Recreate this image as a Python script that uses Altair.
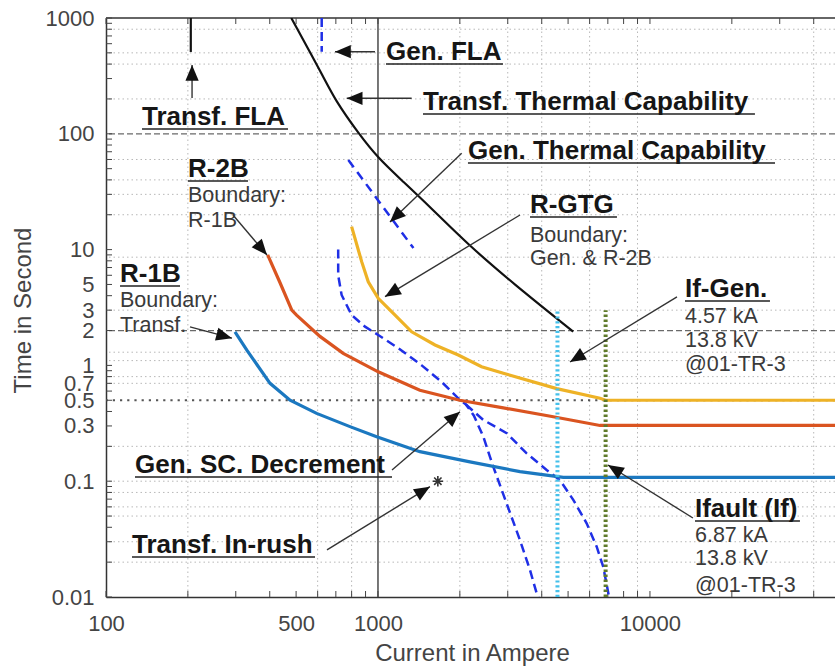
import math
import altair as alt
import pandas as pd

# ---------------------------------------------------------------- frame
X_MIN, X_MAX = 100, 47900          # current, A (log)
T_MIN, T_MAX = 0.01, 1000          # time, s (log)
W, H = 729, 579
FONT = "Liberation Sans"

# ---------------------------------------------------------------- curves
# Transformer thermal capability (damage curve)
transf_thermal_a = [480, 630, 695, 847, 1002, 1240, 1552, 2120, 3140, 5220]
transf_thermal_t = [1000, 311, 196, 101, 61.4, 38.5, 23.4, 11.3, 5.1, 1.96]

# Full-load amps markers
gen_fla_a, gen_fla_t = [621, 621], [1000, 512]
transf_fla_a, transf_fla_t = [205, 205], [1000, 509]

# Generator thermal capability
gen_thermal_a, gen_thermal_t = [778, 1350], [59.4, 10.3]

# Generator short-circuit decrement (two branches from a common start)
gen_sc_a = [714, 714, 735, 800, 896, 1002, 1188, 1448, 1715, 1974, 2105]
gen_sc_t = [10, 6.0, 4.06, 2.72, 2.16, 1.83, 1.41, 1.0, 0.72, 0.52, 0.46]
gen_sc_fast_a = [2105, 2250, 2440, 2655, 2973, 3327, 3622, 3830, 3900]
gen_sc_fast_t = [0.46, 0.37, 0.242, 0.133, 0.064, 0.031, 0.0171, 0.0108, 0.01]
gen_sc_slow_a = [2105, 2438, 2973, 3520, 4170, 4670, 5224, 5850, 6370, 6730, 7030, 7080]
gen_sc_slow_t = [0.46, 0.338, 0.26, 0.174, 0.125, 0.102, 0.069, 0.0433, 0.0272, 0.0183, 0.0108, 0.01]

# Relay characteristics
r1b_a = [298, 329, 401, 475, 595, 789, 989, 1426, 2178, 3327, 4800, 50000]
r1b_t = [1.95, 1.36, 0.70, 0.50, 0.385, 0.296, 0.242, 0.18, 0.147, 0.121, 0.108, 0.108]
r2b_a = [393, 436, 482, 502, 612, 745, 1002, 1426, 2000, 2890, 4410, 6550, 50000]
r2b_t = [9.0, 5.2, 3.0, 2.72, 1.78, 1.27, 0.88, 0.61, 0.50, 0.43, 0.36, 0.303, 0.303]
rgtg_a = [800, 871, 921, 1002, 1122, 1330, 1621, 1974, 2404, 2890, 4540, 6550, 6870, 50000]
rgtg_t = [15.8, 7.87, 5.28, 3.8, 2.91, 1.95, 1.5, 1.23, 0.975, 0.855, 0.63, 0.52, 0.5, 0.5]

# Fault currents
if_gen_a, if_gen_t = [4570, 4570], [0.01, 3.0]
ifault_a, ifault_t = [6870, 6870], [0.01, 3.0]

# Transformer in-rush point
inrush_a, inrush_t = [1660], [0.1]

# ---------------------------------------------------------------- grid / ticks
ref_dashed_t = [100, 2]
ref_dotted_t = [0.5]
grid_t = [800, 500, 400, 200, 60, 40, 30, 20, 8.6, 3, 1.3, 1.1, 0.8, 0.7,
          0.2, 0.1, 0.08, 0.06, 0.05, 0.03, 0.02]
grid_a = [200, 600, 800, 2000, 3000, 4000, 6000, 9000, 40000]
x_tick_values = [100, 500, 1000, 10000]
y_tick_values = [0.01, 0.1, 0.3, 0.5, 0.7, 1, 2, 3, 5, 10, 100, 1000]
minor_a = [m * 10 ** e for e in (2, 3, 4) for m in range(1, 10) if m * 10 ** e <= X_MAX]
minor_t = [m * 10.0 ** e for e in (-2, -1, 0, 1, 2) for m in range(1, 10)] + [1000]

# ---------------------------------------------------------------- annotations
bold_text = ["Gen. FLA", "Transf. Thermal Capability", "Transf. FLA",
             "Gen. Thermal Capability", "R-GTG", "R-2B", "R-1B", "If-Gen.",
             "Gen. SC. Decrement", "Ifault (If)", "Transf. In-rush"]
bold_a = [1070, 1464, 135.6, 2142, 3622, 200.2, 112.6, 13450, 127.8, 14640, 124.6]
bold_t = [433.8, 160.5, 119.1, 60.6, 20.71, 42.4, 5.25, 3.9, 0.1177, 0.0491, 0.024]
bold_a_end = [2882, 24320, 466.9, 28830, 7563, 332.7, 187.1, 27620, 1126, 35600, 586.7]

note_text = ["Boundary:", "R-1B", "Boundary:", "Gen. & R-2B", "Boundary:", "Transf.",
             "4.57 kA", "13.8 kV", "@01-TR-3", "6.87 kA", "13.8 kV", "@01-TR-3"]
note_a = [200.2, 200.2, 3622, 3622, 112.6, 112.6,
          13450, 13450, 13450, 14640, 14640, 14640]
note_t = [25.76, 15.67, 11.63, 7.36, 3.19, 1.94,
          2.32, 1.44, 0.895, 0.0299, 0.0189, 0.01104]

arrow_from_a = [975, 1330, 207.2, 2031, 3328, 293, 203.6, 12570, 1126, 14390, 649.4]
arrow_from_t = [511.7, 202.6, 203.8, 67.9, 19.9, 19.9, 2.15, 3.9, 0.125, 0.0481, 0.0255]
arrow_to_a = [695, 767.4, 207.2, 1107, 1061, 390.8, 290.5, 5080, 2002, 7007, 1552]
arrow_to_t = [511.7, 202.6, 392.8, 17.3, 3.92, 8.98, 1.72, 1.07, 0.398, 0.138, 0.0897]


def _screen(a, t):
    lx0, lx1 = math.log10(X_MIN), math.log10(X_MAX)
    lt0, lt1 = math.log10(T_MIN), math.log10(T_MAX)
    return (W * (math.log10(a) - lx0) / (lx1 - lx0),
            H * (lt1 - math.log10(t)) / (lt1 - lt0))


def heading(a0, t0, a1, t1):
    x0, y0 = _screen(a0, t0)
    x1, y1 = _screen(a1, t1)
    return math.degrees(math.atan2(x1 - x0, -(y1 - y0))) % 360


# ---------------------------------------------------------------- axes / encodings
x_axis = alt.Axis(values=x_tick_values, format="~g", ticks=False, tickSize=0,
                  grid=False, domainColor="#333", domainWidth=1.5,
                  labelFont=FONT, labelFontSize=22, labelColor="#444",
                  labelFlush=False, labelOverlap=False, labelBound=False,
                  labelBaseline="middle", labelPadding=26,
                  title="Current in Ampere", titleFont=FONT, titleFontSize=24,
                  titleFontWeight="normal", titleColor="#444",
                  titleX=366, titleY=56, titleBaseline="middle", titleAlign="center")
y_axis = alt.Axis(values=y_tick_values, format="~g", ticks=False, tickSize=0,
                  grid=False, domainColor="#333", domainWidth=1.5,
                  labelFont=FONT, labelFontSize=22, labelColor="#444",
                  labelFlush=False, labelOverlap=False, labelBound=False,
                  labelPadding=12,
                  title="Time in Second", titleFont=FONT, titleFontSize=24,
                  titleFontWeight="normal", titleColor="#444",
                  titleX=-83, titleY=292, titleAngle=270,
                  titleBaseline="middle", titleAlign="center")

xs = alt.Scale(type="log", domain=[X_MIN, X_MAX], nice=False)
ys = alt.Scale(type="log", domain=[T_MIN, T_MAX], nice=False)
X = alt.X("a:Q", scale=xs, axis=x_axis)
Y = alt.Y("t:Q", scale=ys, axis=y_axis)


def frame(**cols):
    return pd.DataFrame(cols)


def curve(a, t, color, width, dash=None, interp="linear"):
    kw = dict(color=color, strokeWidth=width, clip=True, interpolate=interp)
    if dash:
        kw["strokeDash"] = dash
    return alt.Chart(frame(a=a, t=t)).mark_line(**kw).encode(x=X, y=Y)


grid_h = alt.Chart(frame(t=grid_t)).mark_rule(
    color="#b8b8b8", strokeWidth=1, strokeDash=[1.5, 3]).encode(y=Y)
grid_v = alt.Chart(frame(a=grid_a)).mark_rule(
    color="#b8b8b8", strokeWidth=1, strokeDash=[1.5, 3]).encode(x=X)

ref_dash = alt.Chart(frame(t=ref_dashed_t)).mark_rule(
    color="#6a6a6a", strokeWidth=1.3, strokeDash=[6, 3]).encode(y=Y)
ref_dot = alt.Chart(frame(t=ref_dotted_t)).mark_rule(
    color="#555", strokeWidth=2.2, strokeDash=[2.2, 5]).encode(y=Y)
line_1000 = alt.Chart(frame(a=[1000])).mark_rule(
    color="#555", strokeWidth=1.6).encode(x=X)
top_edge = alt.Chart(frame(t=[T_MAX])).mark_rule(
    color="#333", strokeWidth=1.5).encode(y=Y)

tick_style = dict(color="#444", strokeWidth=1)
ticks_bottom = alt.Chart(frame(a=minor_a)).mark_rule(**tick_style).encode(
    x=X, y=alt.value(H), y2=alt.value(H - 6))
ticks_top = alt.Chart(frame(a=minor_a)).mark_rule(**tick_style).encode(
    x=X, y=alt.value(0), y2=alt.value(6))
ticks_left = alt.Chart(frame(t=minor_t)).mark_rule(**tick_style).encode(
    y=Y, x=alt.value(0), x2=alt.value(6))

BLUE_DASH = "#1f2fe6"
curves = [
    curve(transf_thermal_a, transf_thermal_t, "#111111", 2.2, interp="basis"),
    curve(transf_fla_a, transf_fla_t, "#111111", 2.2),
    curve(gen_fla_a, gen_fla_t, BLUE_DASH, 2.5, [9, 5]),
    curve(gen_thermal_a, gen_thermal_t, BLUE_DASH, 2.5, [9, 6]),
    curve(gen_sc_a + gen_sc_fast_a[1:], gen_sc_t + gen_sc_fast_t[1:], BLUE_DASH, 2.5, [9, 5]),
    curve(gen_sc_slow_a, gen_sc_slow_t, BLUE_DASH, 2.5, [9, 5]),
    curve(r1b_a, r1b_t, "#1b78c0", 3.2),
    curve(r2b_a, r2b_t, "#da5420", 3.2),
    curve(rgtg_a, rgtg_t, "#eeb226", 3.2),
    curve(if_gen_a, if_gen_t, "#45c0ea", 4, [2.2, 2.6]),
    curve(ifault_a, ifault_t, "#5f7a2a", 4, [2.6, 2.4]),
]

inrush = alt.Chart(frame(a=inrush_a, t=inrush_t)).mark_point(
    shape="M-1,0L1,0M0,-1L0,1M-0.7,-0.7L0.7,0.7M-0.7,0.7L0.7,-0.7",
    filled=False, size=110, strokeWidth=1.6, color="#333", opacity=1
).encode(x=X, y=Y)

arrows = frame(a=arrow_from_a, t=arrow_from_t, a2=arrow_to_a, t2=arrow_to_t)
arrows["ang"] = [heading(*r) for r in zip(arrow_from_a, arrow_from_t, arrow_to_a, arrow_to_t)]
arrow_lines = alt.Chart(arrows).mark_rule(color="#333", strokeWidth=1.4).encode(
    x=X, y=Y, x2="a2:Q", y2="t2:Q")
arrow_heads = alt.Chart(arrows).mark_point(
    shape="M0,0L0.42,1L-0.42,1Z", filled=True, size=1000, color="#111", opacity=1
).encode(x=alt.X("a2:Q", scale=xs, axis=x_axis), y=alt.Y("t2:Q", scale=ys, axis=y_axis),
         angle=alt.Angle("ang:Q", scale=None))

bold = frame(label=bold_text, a=bold_a, t=bold_t, a2=bold_a_end)
bold_labels = alt.Chart(bold).mark_text(
    align="left", baseline="alphabetic", font=FONT, fontSize=26,
    fontWeight="bold", color="#161616"
).encode(x=X, y=Y, text="label:N")
underlines = alt.Chart(bold).mark_rule(
    color="#222", strokeWidth=1.6, yOffset=4
).encode(x=X, x2="a2:Q", y=Y)

notes = alt.Chart(frame(label=note_text, a=note_a, t=note_t)).mark_text(
    align="left", baseline="alphabetic", font=FONT, fontSize=21.5, color="#3a3a3a"
).encode(x=X, y=Y, text="label:N")

chart = alt.layer(
    grid_h, grid_v, ref_dash, ref_dot, line_1000, top_edge,
    ticks_bottom, ticks_top, ticks_left,
    *curves, inrush, arrow_lines, arrow_heads, underlines, bold_labels, notes
).properties(
    width=W, height=H,
    autosize=alt.AutoSizeParams(type="none"),
    padding={"left": 106, "top": 18, "right": 0, "bottom": 70},
).configure_view(stroke=None)

chart.save("out.html", embed_options={"renderer": "svg", "actions": False})
